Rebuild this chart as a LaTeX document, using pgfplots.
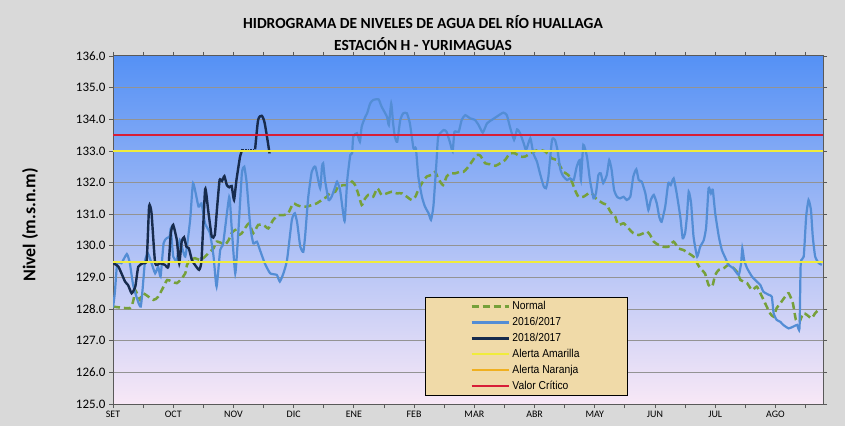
\documentclass[border=0pt]{standalone}
\usepackage{fontspec}
\setmainfont{Carlito}
\newfontfamily\legfont[FakeStretch=0.9]{Liberation Sans}
\usepackage{pgfplots}
\pgfplotsset{compat=1.18}
\definecolor{figbg}{RGB}{217,217,217}
\definecolor{normalc}{RGB}{118,160,58}
\definecolor{c2016}{RGB}{83,141,213}
\definecolor{c2018}{RGB}{23,43,77}
\definecolor{amar}{RGB}{240,236,60}
\definecolor{naranja}{RGB}{240,176,32}
\definecolor{critico}{RGB}{215,30,55}
\definecolor{parch}{RGB}{240,218,168}
\definecolor{topb}{RGB}{85,145,245}
\definecolor{midb}{RGB}{150,195,245}
\definecolor{botb}{RGB}{248,232,246}
\begin{document}
\begin{tikzpicture}
\fill[figbg] (0bp,0bp) rectangle (845bp,426bp);
\useasboundingbox (0bp,0bp) rectangle (845bp,426bp);
\node[font=\bfseries\fontsize{15.5}{18}\selectfont] at (423bp,404bp) {HIDROGRAMA DE NIVELES DE AGUA DEL RÍO HUALLAGA};
\node[font=\bfseries\fontsize{15.5}{18}\selectfont] at (423bp,382bp) {ESTACIÓN H - YURIMAGUAS};
\node[rotate=90,font=\bfseries\fontsize{18}{20}\selectfont] at (30bp,201bp) {Nivel (m.s.n.m)};
\begin{axis}[
  at={(113bp,22bp)}, anchor=south west, scale only axis,
  width=710bp, height=348bp,
  xmin=0, xmax=11.79, ymin=125, ymax=136,
  xtick={0,...,11},
  xticklabels={SET,OCT,NOV,DIC,ENE,FEB,MAR,ABR,MAY,JUN,JUL,AGO},
  minor xtick={0.5,1.5,...,11.5},
  ytick={125,...,136},
  /pgf/number format/assume math mode=true,
  yticklabel style={/pgf/number format/fixed,/pgf/number format/fixed zerofill,/pgf/number format/precision=1,font=\fontsize{13}{15}\selectfont},
  xticklabel style={font=\fontsize{10}{12}\selectfont},
  tick align=outside, major tick length=4bp, minor tick length=4bp,
  tick style={draw=gray!70!black, line width=0.8bp},
  ymajorgrids, grid style={draw=gray!85, line width=1bp},
  axis line style={draw=gray!70!black, line width=1bp},
  axis background/.style={top color=topb, middle color=midb, bottom color=botb},
  legend style={at={(0.4394,0.3075)}, anchor=north west, fill=parch, draw=black, line width=1bp,
    font=\legfont\fontsize{11.5}{13}\selectfont, inner xsep=45bp, inner ysep=1bp, row sep=0bp,
    nodes={text height=8.5bp, text depth=2.5bp, inner sep=2.5bp}},
  legend cell align=left,
  legend image code/.code={\draw[#1] (0bp,0bp) -- (37bp,0bp);},
]
\addplot[normalc, line width=2.5bp, dash pattern=on 7bp off 4bp, smooth, tension=0.35] coordinates {
(0.00,128.08) (0.28,128.03) (0.34,128.29) (0.37,128.60) (0.45,128.29) (0.50,128.50) (0.67,128.29) (0.75,128.39)
(0.84,128.71) (0.90,128.92) (0.98,128.87) (1.06,128.82) (1.14,128.97) (1.20,129.13) (1.23,129.40) (1.28,129.55)
(1.36,129.61) (1.45,129.55) (1.53,129.66) (1.58,129.76) (1.67,129.92) (1.72,130.13) (1.81,130.08) (1.86,130.03)
(1.92,130.18) (1.97,130.40) (2.03,130.50) (2.08,130.34) (2.14,130.40) (2.19,130.55) (2.26,130.71) (2.33,130.40)
(2.41,130.66) (2.50,130.66) (2.58,130.55) (2.66,130.82) (2.75,130.97) (2.83,130.97) (2.91,131.03) (2.99,131.34)
(3.05,131.29) (3.13,131.24) (3.22,131.24) (3.30,131.29) (3.38,131.34) (3.47,131.45) (3.55,131.55) (3.60,131.66)
(3.69,131.71) (3.74,131.87) (3.83,131.92) (3.91,131.92) (3.97,132.03) (4.02,131.92) (4.07,131.66) (4.13,131.29)
(4.17,131.45) (4.24,131.61) (4.32,131.55) (4.39,131.82) (4.46,131.61) (4.55,131.66) (4.63,131.71) (4.71,131.66)
(4.80,131.66) (4.88,131.55) (4.96,131.45) (5.02,131.55) (5.07,131.77) (5.13,131.98) (5.21,132.19) (5.29,132.24)
(5.35,132.34) (5.40,132.13) (5.48,131.92) (5.54,132.19) (5.60,132.29) (5.68,132.29) (5.76,132.34) (5.82,132.34)
(5.88,132.45) (5.96,132.66) (6.04,132.87) (6.10,132.85) (6.18,132.61) (6.26,132.58) (6.35,132.53) (6.43,132.61)
(6.51,132.71) (6.59,132.92) (6.68,132.92) (6.76,132.82) (6.84,132.82) (6.93,132.92) (7.01,133.00) (7.09,133.03)
(7.18,132.98) (7.23,132.87) (7.29,132.76) (7.37,132.71) (7.43,132.50) (7.48,132.34) (7.56,132.24) (7.62,132.03)
(7.67,131.77) (7.73,131.55) (7.81,131.55) (7.90,131.66) (7.95,131.66) (8.02,131.50) (8.09,131.40) (8.14,131.34)
(8.20,131.29) (8.26,131.08) (8.34,130.92) (8.39,130.66) (8.48,130.71) (8.56,130.55) (8.64,130.40) (8.73,130.34)
(8.81,130.40) (8.87,130.45) (8.92,130.34) (8.98,130.13) (9.06,130.03) (9.14,129.97) (9.22,129.97) (9.31,130.13)
(9.39,129.92) (9.47,129.87) (9.56,129.76) (9.64,129.66) (9.70,129.45) (9.75,129.29) (9.83,129.13) (9.89,128.76)
(9.95,128.71) (10.00,129.08) (10.06,129.24) (10.14,129.29) (10.22,129.40) (10.28,129.34) (10.36,129.18) (10.42,128.92)
(10.47,128.87) (10.53,128.82) (10.61,128.60) (10.69,128.71) (10.75,128.50) (10.83,128.18) (10.91,127.87) (10.97,127.76)
(11.02,128.03) (11.08,128.18) (11.16,128.39) (11.22,128.50) (11.29,128.18) (11.34,127.66) (11.40,127.60) (11.46,127.87)
(11.52,127.82) (11.60,127.71) (11.66,127.87) (11.74,128.03)
};
\addplot[c2016, line width=2.2bp, smooth, tension=0.3] coordinates {
(0.00,128.05) (0.03,128.50) (0.07,129.45) (0.14,129.45) (0.23,129.74) (0.28,129.45) (0.34,128.71) (0.46,128.08)
(0.53,129.50) (0.58,129.76) (0.64,129.45) (0.70,129.13) (0.75,129.34) (0.79,129.03) (0.84,130.08) (0.89,130.24)
(0.94,130.29) (0.96,130.55) (1.00,129.66) (1.06,129.55) (1.11,130.18) (1.20,129.66) (1.28,130.80) (1.33,131.98)
(1.42,131.24) (1.47,131.34) (1.53,130.70) (1.61,130.40) (1.67,129.66) (1.72,128.71) (1.78,129.87) (1.83,130.08)
(1.93,131.55) (1.97,130.60) (2.03,129.13) (2.08,130.40) (2.14,132.29) (2.18,132.50) (2.22,131.98) (2.28,130.60)
(2.33,130.08) (2.39,130.13) (2.44,129.87) (2.52,129.45) (2.61,129.13) (2.72,129.08) (2.77,128.87) (2.83,129.13)
(2.89,129.55) (2.97,130.82) (3.02,131.03) (3.06,130.71) (3.11,129.97) (3.16,129.81) (3.19,130.30) (3.24,131.50)
(3.30,132.34) (3.36,132.50) (3.44,131.82) (3.47,132.50) (3.49,132.61) (3.52,132.08) (3.58,131.45) (3.63,131.55)
(3.69,131.87) (3.72,132.03) (3.77,131.77) (3.83,130.92) (3.85,130.82) (3.89,132.08) (3.94,132.87) (3.97,132.92)
(3.99,133.45) (4.05,133.56) (4.10,133.29) (4.13,133.77) (4.19,134.08) (4.22,134.19) (4.27,134.50) (4.32,134.61)
(4.41,134.63) (4.46,134.40) (4.55,134.08) (4.58,133.82) (4.62,134.50) (4.65,133.90) (4.68,133.45) (4.72,133.29)
(4.77,133.98) (4.82,134.19) (4.88,134.19) (4.93,133.87) (4.99,133.08) (5.03,133.08) (5.07,132.19) (5.13,131.55)
(5.18,131.24) (5.24,131.03) (5.28,130.82) (5.32,131.24) (5.37,132.61) (5.40,133.45) (5.49,133.66) (5.54,133.60)
(5.60,133.24) (5.64,132.98) (5.67,133.60) (5.74,133.60) (5.79,133.98) (5.85,134.13) (5.93,134.03) (6.01,133.98)
(6.07,133.82) (6.14,133.58) (6.21,133.87) (6.29,133.98) (6.37,134.08) (6.48,134.21) (6.54,134.13) (6.59,133.77)
(6.66,133.35) (6.71,133.68) (6.76,133.56) (6.82,133.24) (6.86,133.03) (6.93,133.40) (6.98,132.92) (7.04,132.66)
(7.09,132.29) (7.15,131.89) (7.19,131.82) (7.23,132.19) (7.29,133.35) (7.34,133.35) (7.38,133.03) (7.43,132.40)
(7.48,132.19) (7.54,132.08) (7.59,132.13) (7.65,132.08) (7.70,132.50) (7.75,132.71) (7.77,132.08) (7.81,133.19)
(7.87,132.82) (7.92,132.08) (7.98,131.50) (8.02,131.66) (8.06,132.24) (8.10,132.29) (8.14,131.98) (8.20,132.24)
(8.24,132.71) (8.28,132.40) (8.32,131.77) (8.37,131.55) (8.42,131.50) (8.48,131.55) (8.53,131.45) (8.59,131.55)
(8.64,132.19) (8.69,132.42) (8.73,132.08) (8.78,132.03) (8.84,131.66) (8.89,131.13) (8.93,131.45) (8.98,131.61)
(9.03,131.34) (9.07,130.92) (9.11,130.76) (9.17,131.24) (9.22,131.98) (9.26,131.92) (9.31,132.13) (9.36,131.66)
(9.42,130.92) (9.46,130.24) (9.50,130.40) (9.53,130.92) (9.56,131.71) (9.60,131.34) (9.64,130.29) (9.70,129.66)
(9.75,129.97) (9.81,130.18) (9.85,130.60) (9.89,131.82) (9.93,131.66) (9.96,131.77) (10.00,131.03) (10.06,130.29)
(10.11,129.87) (10.17,129.61) (10.22,129.40) (10.30,129.29) (10.39,129.08) (10.43,129.45) (10.45,129.92) (10.48,129.55)
(10.53,129.29) (10.61,129.03) (10.69,128.87) (10.75,128.76) (10.80,128.55) (10.89,128.45) (10.94,128.39) (10.97,127.87)
(11.02,127.66) (11.08,127.60) (11.13,127.50) (11.22,127.39) (11.30,127.45) (11.36,127.50) (11.40,127.39) (11.42,129.45)
(11.47,129.66) (11.51,130.92) (11.55,131.45) (11.59,131.13) (11.62,130.29) (11.66,129.66) (11.72,129.45) (11.77,129.40)
};
\addplot[c2018, line width=2.4bp, smooth, tension=0.3] coordinates {
(0.00,129.45) (0.09,129.34) (0.20,128.87) (0.25,128.76) (0.31,128.50) (0.37,128.71) (0.42,129.34) (0.50,129.45)
(0.56,129.55) (0.60,131.26) (0.64,131.03) (0.70,129.45) (0.78,129.45) (0.86,129.40) (0.92,129.34) (0.96,130.40)
(1.00,130.66) (1.06,130.18) (1.10,129.45) (1.14,130.13) (1.18,130.27) (1.22,129.97) (1.26,129.92) (1.31,129.55)
(1.36,129.40) (1.43,129.24) (1.47,129.55) (1.53,131.79) (1.58,131.13) (1.64,130.29) (1.69,130.34) (1.73,131.24)
(1.77,132.08) (1.81,132.05) (1.85,132.20) (1.89,131.92) (1.93,131.85) (1.97,131.89) (2.01,131.45) (2.05,132.08)
(2.11,132.82) (2.15,133.05)
};
\addplot[c2018, line width=1.6bp, densely dotted, forget plot] coordinates {(2.15,133.05) (2.36,133.05)};
\addplot[c2018, line width=2.4bp, smooth, tension=0.4, forget plot] coordinates {
(2.36,133.05) (2.41,133.98) (2.47,134.11) (2.52,133.87) (2.60,132.92)
};
\addplot[naranja, line width=2bp, forget plot] coordinates {(0,133.0) (11.79,133.0)};
\addplot[amar, line width=2bp] coordinates {(0,129.5) (11.79,129.5)};
\addplot[amar, line width=2bp, forget plot] coordinates {(0,133.0) (11.79,133.0)};
\addlegendimage{naranja, line width=2bp}
\addplot[critico, line width=2bp] coordinates {(0,133.5) (11.79,133.5)};
\legend{Normal,2016/2017,2018/2017,Alerta Amarilla,Alerta Naranja,Valor Crítico}
\end{axis}
\end{tikzpicture}
\end{document}
